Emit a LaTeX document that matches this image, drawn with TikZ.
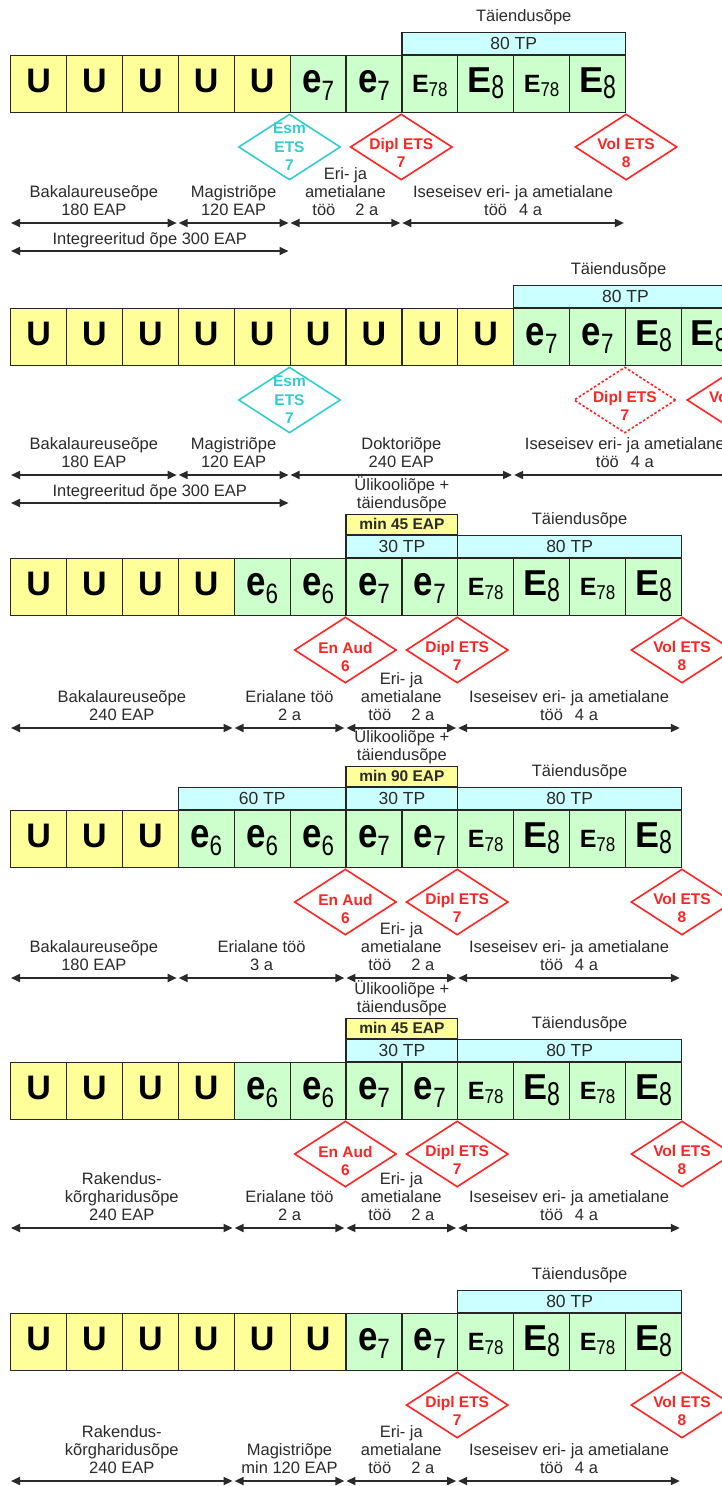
\documentclass[tikz,border=0pt]{standalone}
\usepackage{graphicx}
\usepackage{fontspec}
\setmainfont{Liberation Sans}
\usetikzlibrary{arrows.meta, positioning, shapes.geometric, calc}

\definecolor{uyellow}{HTML}{FFFF99}
\definecolor{egreen}{HTML}{CCFFCC}
\definecolor{tpcyan}{HTML}{CCFFFF}
\definecolor{dred}{HTML}{FF2424}
\definecolor{dcyan}{HTML}{33CCCC}
\definecolor{ink}{HTML}{2A2A2A}

%cell letters
\newcommand\celle[1]{\scalebox{.85}[1]{\fontsize{41}{41}\selectfont\bfseries e}\raisebox{-8pt}{\scalebox{.8}[1]{\fontsize{28}{28}\selectfont #1}}}
\newcommand\cellE[1]{{\fontsize{36}{36}\selectfont\bfseries E}\raisebox{-6pt}{\scalebox{.7}[1]{\fontsize{33}{33}\selectfont #1}}}
\newcommand\cellEE[1]{{\fontsize{25}{25}\selectfont\bfseries E}\raisebox{-4pt}{\scalebox{.85}[1]{\fontsize{20}{20}\selectfont #1}}}

\begin{document}
\begin{tikzpicture}[
  x=1pt, y=-1pt,
  cell/.style={draw=black!85, line width=1.2pt, minimum width=55.9pt, minimum height=57pt, inner sep=0pt, anchor=north west, text height=25pt, text depth=8pt},
  ucell/.style={cell, fill=uyellow, font=\fontsize{34}{34}\selectfont\bfseries},
  ecell/.style={cell, fill=egreen},
  band/.style={draw=black!85, line width=1.2pt, fill=tpcyan, minimum height=22pt, inner sep=0pt, anchor=south west, text=ink, font=\fontsize{17.5}{17.5}\selectfont},
  yband/.style={band, fill=uyellow, minimum height=20pt, font=\fontsize{15.5}{15.5}\selectfont\bfseries},
  lbl/.style={font=\fontsize{16.5}{18}\selectfont, text=ink, align=center, inner sep=0pt, text depth=0pt},
  dim/.style={{Triangle[length=9pt,width=8pt]}-{Triangle[length=9pt,width=8pt]}, line width=1.8pt, draw=ink, shorten <=1pt, shorten >=1pt},
  dia/.style={shape=diamond, line width=1.6pt, minimum width=102pt, minimum height=66pt, inner sep=0pt, anchor=north},
  rdia/.style={dia, draw=dred},
  cdia/.style={dia, draw=dcyan},
  ddia/.style={rdia, dash pattern=on 2.5pt off 2pt},
  dtxt/.style={font=\fontsize{15.5}{18.5}\selectfont\bfseries, align=center, inner sep=0pt}
]
%general params
\def\cw{55.9} %cell width
\useasboundingbox (0,0) rectangle (722,1486);
\clip (0,0) rectangle (722,1486);

%row 1
\def\ry{55}
\foreach \s/\t [count=\i from 0] in {ucell/U,ucell/U,ucell/U,ucell/U,ucell/U,ecell/\celle{7},ecell/\celle{7},ecell/\cellEE{78},ecell/\cellE{8},ecell/\cellEE{78},ecell/\cellE{8}}
  \node[cell,\s] (r1c\i) at (10+\i*\cw,\ry) {\t};
\node[band, minimum width=4*\cw pt] (r1b1) at (r1c7.north west) {80 TP};
\node[lbl, above=10pt of r1b1, xshift=10pt] (r1t) {Täiendusõpe};

\node[cdia] (r1d1) at (r1c5.south west) {};
\node[dtxt, text=dcyan] (r1d1t) at (r1d1) {Esm\\ETS\\7};
\node[rdia] (r1d2) at (r1c7.south west) {};
\node[dtxt, text=dred, yshift=-6pt] (r1d2t) at (r1d2) {Dipl ETS\\7};
\node[rdia] (r1d3) at (r1c10.south east) {};
\node[dtxt, text=dred, yshift=-6pt] (r1d3t) at (r1d3) {Vol ETS\\8};

\foreach \k in {0,3,5,7,11} \coordinate (r1p\k) at (10+\k*\cw,\ry+168);
\foreach \a/\b in {0/3,3/5,5/7,7/11} \draw[dim] (r1p\a) -- (r1p\b);
\node[lbl, anchor=south, yshift=7pt] (r1l1) at ($(r1p0)!.5!(r1p3)$) {Bakalaureuseõpe\\180 EAP};
\node[lbl, anchor=south, yshift=7pt] (r1l2) at ($(r1p3)!.5!(r1p5)$) {Magistriõpe\\120 EAP};
\node[lbl, anchor=south, yshift=7pt] (r1l3) at ($(r1p5)!.5!(r1p7)$) {Eri- ja\\ametialane\\töö\hspace{20pt}2 a};
\node[lbl, anchor=south, yshift=7pt] (r1l4) at ($(r1p7)!.5!(r1p11)$) {Iseseisev eri- ja ametialane\\töö\hspace{12pt}4 a};
\coordinate (r1q0) at (10,\ry+196);
\coordinate (r1q5) at (10+5*\cw,\ry+196);
\draw[dim] (r1q0) -- (r1q5);
\node[lbl, anchor=south, yshift=6pt] (r1l5) at ($(r1q0)!.5!(r1q5)$) {Integreeritud õpe 300 EAP};

%row 2
\def\ry{308}
\foreach \s/\t [count=\i from 0] in {ucell/U,ucell/U,ucell/U,ucell/U,ucell/U,ucell/U,ucell/U,ucell/U,ucell/U,ecell/\celle{7},ecell/\celle{7},ecell/\cellE{8},ecell/\cellE{8}}
  \node[cell,\s] (r2c\i) at (10+\i*\cw,\ry) {\t};
\node[band, minimum width=4*\cw pt] (r2b1) at (r2c9.north west) {80 TP};
\node[lbl, above=10pt of r2b1, xshift=-7pt] (r2t) {Täiendusõpe};

\node[cdia] (r2d1) at (r2c5.south west) {};
\node[dtxt, text=dcyan] (r2d1t) at (r2d1) {Esm\\ETS\\7};
\node[ddia] (r2d2) at (r2c11.south west) {};
\node[dtxt, text=dred, yshift=-6pt] (r2d2t) at (r2d2) {Dipl ETS\\7};
\node[rdia] (r2d3) at (r2c12.south east) {};
\node[dtxt, text=dred, yshift=-6pt] (r2d3t) at (r2d3) {Vol ETS\\8};

\foreach \k in {0,3,5,9,13} \coordinate (r2p\k) at (10+\k*\cw,\ry+167);
\foreach \a/\b in {0/3,3/5,5/9,9/13} \draw[dim] (r2p\a) -- (r2p\b);
\node[lbl, anchor=south, yshift=7pt] (r2l1) at ($(r2p0)!.5!(r2p3)$) {Bakalaureuseõpe\\180 EAP};
\node[lbl, anchor=south, yshift=7pt] (r2l2) at ($(r2p3)!.5!(r2p5)$) {Magistriõpe\\120 EAP};
\node[lbl, anchor=south, yshift=7pt] (r2l3) at ($(r2p5)!.5!(r2p9)$) {Doktoriõpe\\240 EAP};
\node[lbl, anchor=south, yshift=7pt] (r2l4) at ($(r2p9)!.5!(r2p13)$) {Iseseisev eri- ja ametialane\\töö\hspace{12pt}4 a};
\coordinate (r2q0) at (10,\ry+195);
\coordinate (r2q5) at (10+5*\cw,\ry+195);
\draw[dim] (r2q0) -- (r2q5);
\node[lbl, anchor=south, yshift=6pt] (r2l5) at ($(r2q0)!.5!(r2q5)$) {Integreeritud õpe 300 EAP};

%row 3
\def\ry{558}
\foreach \s/\t [count=\i from 0] in {ucell/U,ucell/U,ucell/U,ucell/U,ecell/\celle{6},ecell/\celle{6},ecell/\celle{7},ecell/\celle{7},ecell/\cellEE{78},ecell/\cellE{8},ecell/\cellEE{78},ecell/\cellE{8}}
  \node[cell,\s] (r3c\i) at (10+\i*\cw,\ry) {\t};
\node[band, minimum width=2*\cw pt] (r3b1) at (r3c6.north west) {30 TP};
\node[band, minimum width=4*\cw pt] (r3b2) at (r3c8.north west) {80 TP};
\node[yband, minimum width=2*\cw pt] (r3y) at (r3b1.north west) {min 45 EAP};
\node[lbl, above=5pt of r3y] (r3u) {Ülikooliõpe +\\täiendusõpe};
\node[lbl, above=10pt of r3b2, xshift=10pt] (r3t) {Täiendusõpe};

\node[rdia] (r3d1) at (r3c6.south west) {};
\node[dtxt, text=dred, yshift=-7pt] (r3d1t) at (r3d1) {En Aud\\6};
\node[rdia] (r3d2) at (r3c8.south west) {};
\node[dtxt, text=dred, yshift=-6pt] (r3d2t) at (r3d2) {Dipl ETS\\7};
\node[rdia] (r3d3) at (r3c11.south east) {};
\node[dtxt, text=dred, yshift=-6pt] (r3d3t) at (r3d3) {Vol ETS\\8};

\foreach \k in {0,4,6,8,12} \coordinate (r3p\k) at (10+\k*\cw,\ry+170);
\foreach \a/\b in {0/4,4/6,6/8,8/12} \draw[dim] (r3p\a) -- (r3p\b);
\node[lbl, anchor=south, yshift=7pt] (r3l1) at ($(r3p0)!.5!(r3p4)$) {Bakalaureuseõpe\\240 EAP};
\node[lbl, anchor=south, yshift=7pt] (r3l2) at ($(r3p4)!.5!(r3p6)$) {Erialane töö\\2 a};
\node[lbl, anchor=south, yshift=7pt] (r3l3) at ($(r3p6)!.5!(r3p8)$) {Eri- ja\\ametialane\\töö\hspace{20pt}2 a};
\node[lbl, anchor=south, yshift=7pt] (r3l4) at ($(r3p8)!.5!(r3p12)$) {Iseseisev eri- ja ametialane\\töö\hspace{12pt}4 a};

%row 4
\def\ry{810}
\foreach \s/\t [count=\i from 0] in {ucell/U,ucell/U,ucell/U,ecell/\celle{6},ecell/\celle{6},ecell/\celle{6},ecell/\celle{7},ecell/\celle{7},ecell/\cellEE{78},ecell/\cellE{8},ecell/\cellEE{78},ecell/\cellE{8}}
  \node[cell,\s] (r4c\i) at (10+\i*\cw,\ry) {\t};
\node[band, minimum width=3*\cw pt] (r4b0) at (r4c3.north west) {60 TP};
\node[band, minimum width=2*\cw pt] (r4b1) at (r4c6.north west) {30 TP};
\node[band, minimum width=4*\cw pt] (r4b2) at (r4c8.north west) {80 TP};
\node[yband, minimum width=2*\cw pt] (r4y) at (r4b1.north west) {min 90 EAP};
\node[lbl, above=5pt of r4y] (r4u) {Ülikooliõpe +\\täiendusõpe};
\node[lbl, above=10pt of r4b2, xshift=10pt] (r4t) {Täiendusõpe};

\node[rdia] (r4d1) at (r4c6.south west) {};
\node[dtxt, text=dred, yshift=-7pt] (r4d1t) at (r4d1) {En Aud\\6};
\node[rdia] (r4d2) at (r4c8.south west) {};
\node[dtxt, text=dred, yshift=-6pt] (r4d2t) at (r4d2) {Dipl ETS\\7};
\node[rdia] (r4d3) at (r4c11.south east) {};
\node[dtxt, text=dred, yshift=-6pt] (r4d3t) at (r4d3) {Vol ETS\\8};

\foreach \k in {0,3,6,8,12} \coordinate (r4p\k) at (10+\k*\cw,\ry+168);
\foreach \a/\b in {0/3,3/6,6/8,8/12} \draw[dim] (r4p\a) -- (r4p\b);
\node[lbl, anchor=south, yshift=7pt] (r4l1) at ($(r4p0)!.5!(r4p3)$) {Bakalaureuseõpe\\180 EAP};
\node[lbl, anchor=south, yshift=7pt] (r4l2) at ($(r4p3)!.5!(r4p6)$) {Erialane töö\\3 a};
\node[lbl, anchor=south, yshift=7pt] (r4l3) at ($(r4p6)!.5!(r4p8)$) {Eri- ja\\ametialane\\töö\hspace{20pt}2 a};
\node[lbl, anchor=south, yshift=7pt] (r4l4) at ($(r4p8)!.5!(r4p12)$) {Iseseisev eri- ja ametialane\\töö\hspace{12pt}4 a};

%row 5
\def\ry{1062}
\foreach \s/\t [count=\i from 0] in {ucell/U,ucell/U,ucell/U,ucell/U,ecell/\celle{6},ecell/\celle{6},ecell/\celle{7},ecell/\celle{7},ecell/\cellEE{78},ecell/\cellE{8},ecell/\cellEE{78},ecell/\cellE{8}}
  \node[cell,\s] (r5c\i) at (10+\i*\cw,\ry) {\t};
\node[band, minimum width=2*\cw pt] (r5b1) at (r5c6.north west) {30 TP};
\node[band, minimum width=4*\cw pt] (r5b2) at (r5c8.north west) {80 TP};
\node[yband, minimum width=2*\cw pt] (r5y) at (r5b1.north west) {min 45 EAP};
\node[lbl, above=5pt of r5y] (r5u) {Ülikooliõpe +\\täiendusõpe};
\node[lbl, above=10pt of r5b2, xshift=10pt] (r5t) {Täiendusõpe};

\node[rdia] (r5d1) at (r5c6.south west) {};
\node[dtxt, text=dred, yshift=-7pt] (r5d1t) at (r5d1) {En Aud\\6};
\node[rdia] (r5d2) at (r5c8.south west) {};
\node[dtxt, text=dred, yshift=-6pt] (r5d2t) at (r5d2) {Dipl ETS\\7};
\node[rdia] (r5d3) at (r5c11.south east) {};
\node[dtxt, text=dred, yshift=-6pt] (r5d3t) at (r5d3) {Vol ETS\\8};

\foreach \k in {0,4,6,8,12} \coordinate (r5p\k) at (10+\k*\cw,\ry+166);
\foreach \a/\b in {0/4,4/6,6/8,8/12} \draw[dim] (r5p\a) -- (r5p\b);
\node[lbl, anchor=south, yshift=7pt] (r5l1) at ($(r5p0)!.5!(r5p4)$) {Rakendus-\\kõrgharidusõpe\\240 EAP};
\node[lbl, anchor=south, yshift=7pt] (r5l2) at ($(r5p4)!.5!(r5p6)$) {Erialane töö\\2 a};
\node[lbl, anchor=south, yshift=7pt] (r5l3) at ($(r5p6)!.5!(r5p8)$) {Eri- ja\\ametialane\\töö\hspace{20pt}2 a};
\node[lbl, anchor=south, yshift=7pt] (r5l4) at ($(r5p8)!.5!(r5p12)$) {Iseseisev eri- ja ametialane\\töö\hspace{12pt}4 a};

%row 6
\def\ry{1313}
\foreach \s/\t [count=\i from 0] in {ucell/U,ucell/U,ucell/U,ucell/U,ucell/U,ucell/U,ecell/\celle{7},ecell/\celle{7},ecell/\cellEE{78},ecell/\cellE{8},ecell/\cellEE{78},ecell/\cellE{8}}
  \node[cell,\s] (r6c\i) at (10+\i*\cw,\ry) {\t};
\node[band, minimum width=4*\cw pt] (r6b2) at (r6c8.north west) {80 TP};
\node[lbl, above=10pt of r6b2, xshift=10pt] (r6t) {Täiendusõpe};

\node[rdia] (r6d2) at (r6c8.south west) {};
\node[dtxt, text=dred, yshift=-6pt] (r6d2t) at (r6d2) {Dipl ETS\\7};
\node[rdia] (r6d3) at (r6c11.south east) {};
\node[dtxt, text=dred, yshift=-6pt] (r6d3t) at (r6d3) {Vol ETS\\8};

\foreach \k in {0,4,6,8,12} \coordinate (r6p\k) at (10+\k*\cw,\ry+168);
\foreach \a/\b in {0/4,4/6,6/8,8/12} \draw[dim] (r6p\a) -- (r6p\b);
\node[lbl, anchor=south, yshift=7pt] (r6l1) at ($(r6p0)!.5!(r6p4)$) {Rakendus-\\kõrgharidusõpe\\240 EAP};
\node[lbl, anchor=south, yshift=7pt] (r6l2) at ($(r6p4)!.5!(r6p6)$) {Magistriõpe\\min 120 EAP};
\node[lbl, anchor=south, yshift=7pt] (r6l3) at ($(r6p6)!.5!(r6p8)$) {Eri- ja\\ametialane\\töö\hspace{20pt}2 a};
\node[lbl, anchor=south, yshift=7pt] (r6l4) at ($(r6p8)!.5!(r6p12)$) {Iseseisev eri- ja ametialane\\töö\hspace{12pt}4 a};

\end{tikzpicture}
\end{document}
